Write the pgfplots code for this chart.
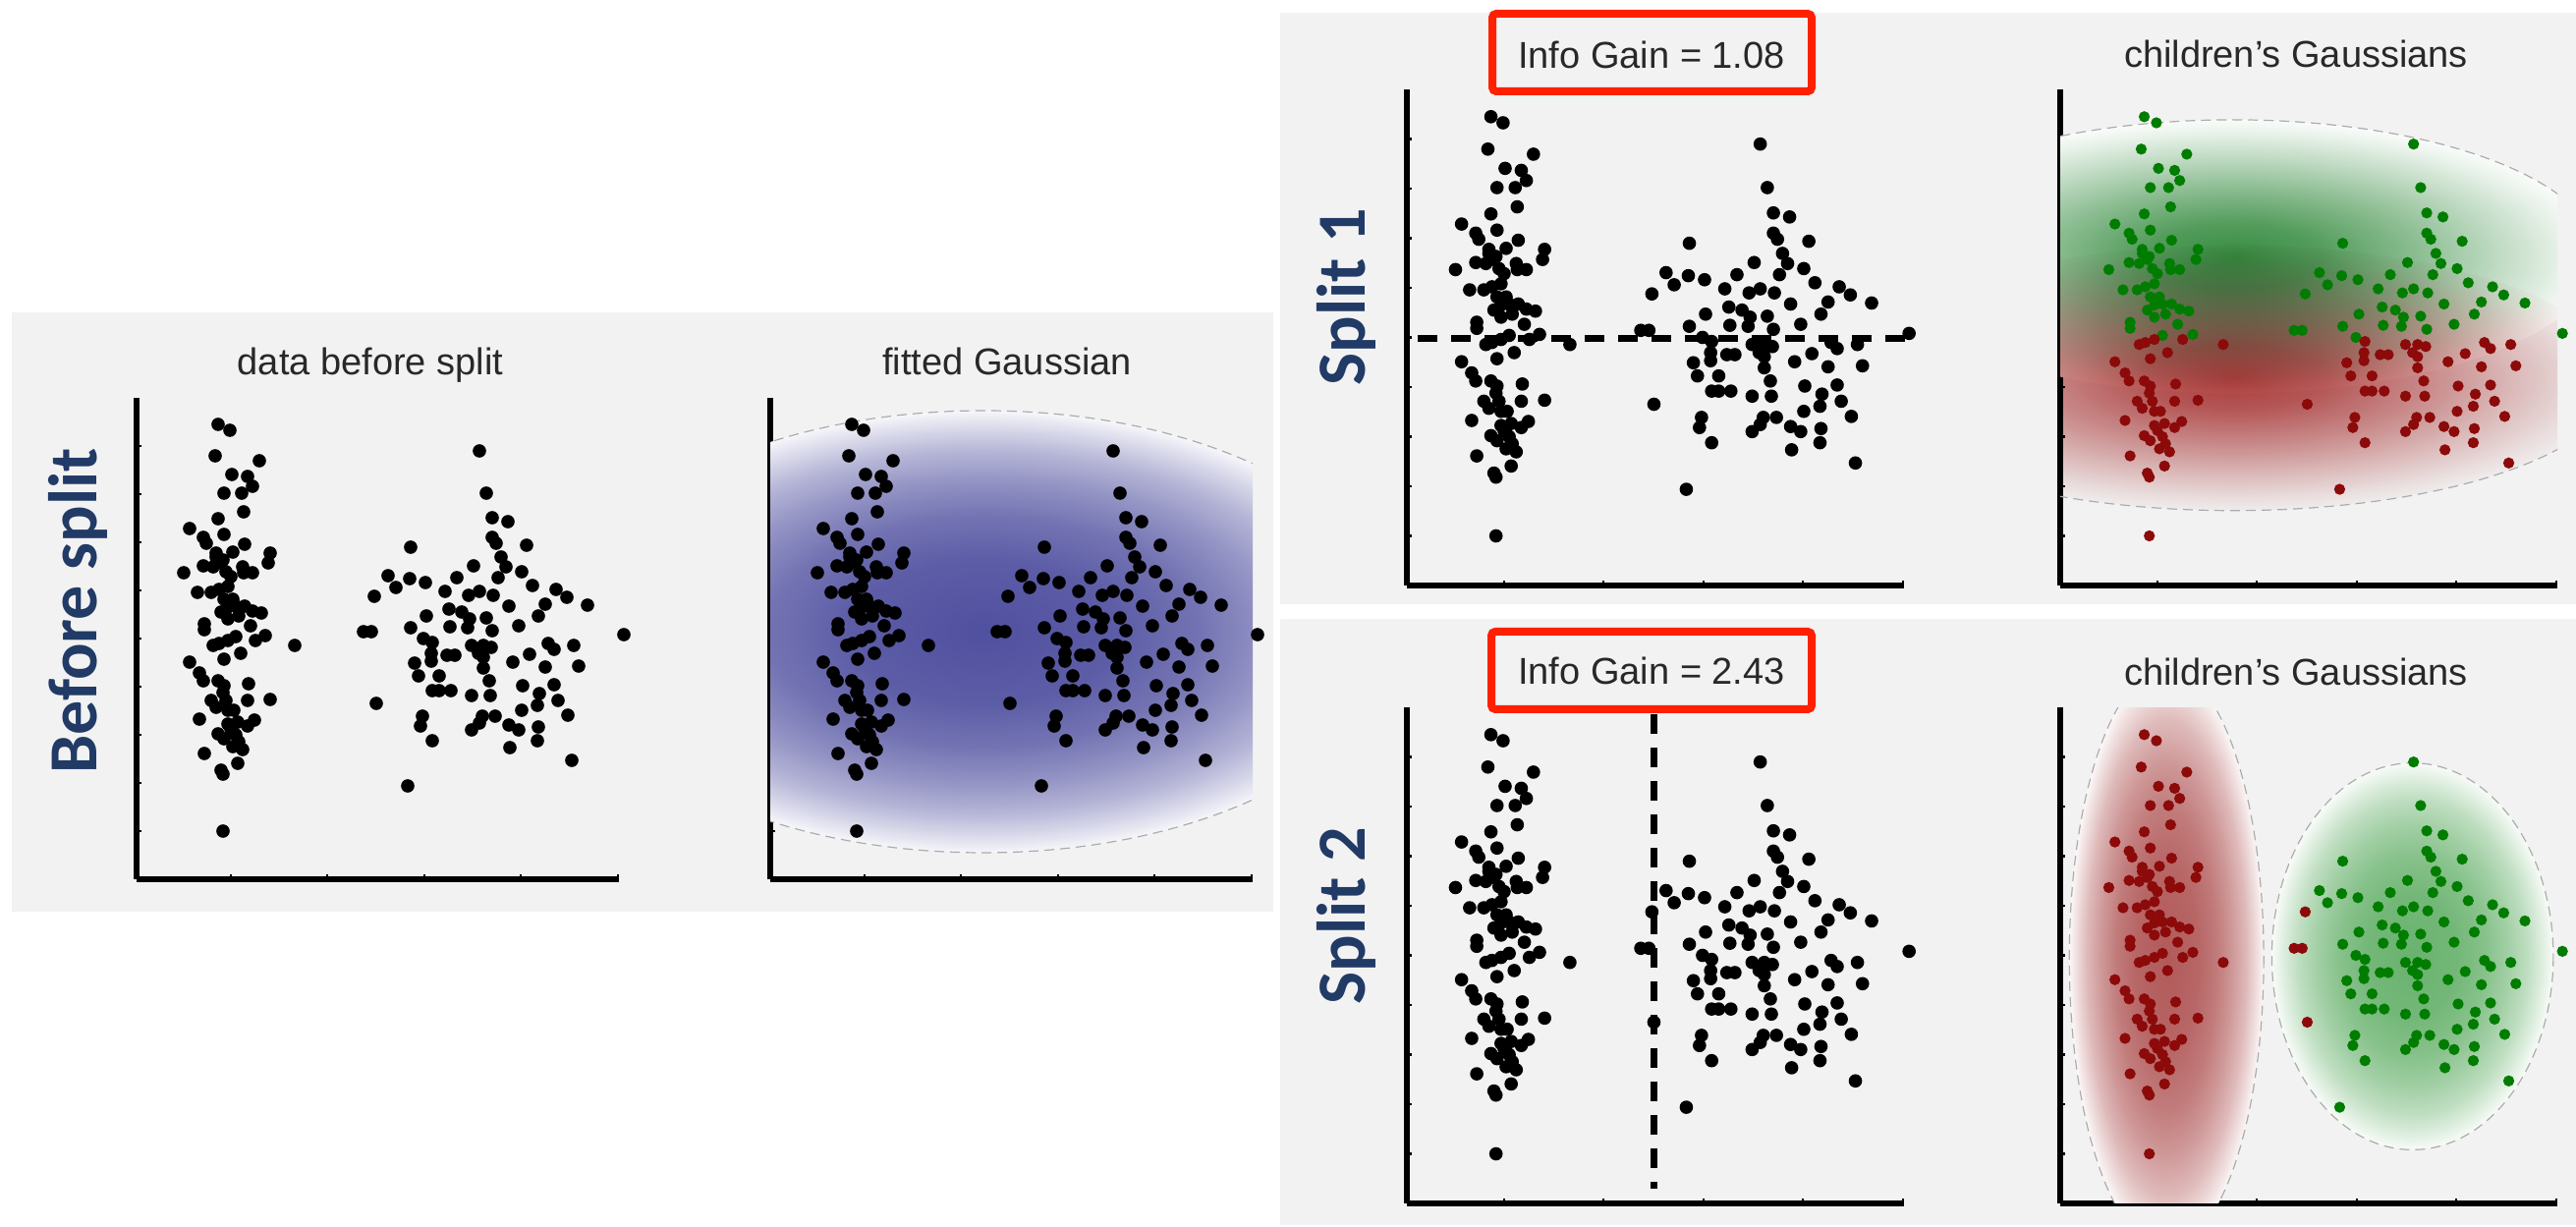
\documentclass[border=0pt]{standalone}
\usepackage{fontspec}
\setmainfont{Liberation Sans}
\newfontfamily\labfont{Carlito}
\usepackage{pgfplots}
\pgfplotsset{compat=1.18}
\usepackage{pgfplotstable}

\definecolor{panelbg}{RGB}{242,242,242}
\definecolor{labblue}{RGB}{33,58,102}
\definecolor{titlegray}{RGB}{40,40,40}
\definecolor{boxred}{RGB}{255,32,0}
\definecolor{cblue}{RGB}{80,80,160}
\definecolor{cgreen}{RGB}{55,140,65}
\definecolor{cred}{RGB}{180,65,65}
\definecolor{cgreenb}{RGB}{105,178,110}
\definecolor{credb}{RGB}{178,90,90}
\definecolor{dotgreen}{RGB}{0,125,0}
\definecolor{dotred}{RGB}{140,10,10}

\newcommand{\gaussshade}[2]{\pgfdeclareradialshading{#1}{\pgfpoint{0bp}{0bp}}{color(0bp)=(#2); color(8bp)=(#2!93!white); color(13bp)=(#2!80!white); color(17bp)=(#2!62!white); color(20.5bp)=(#2!42!white); color(23bp)=(#2!22!white); color(25bp)=(#2!5!white); color(26bp)=(white); color(50bp)=(white)}}
\newcommand{\gaussshadenarrow}[2]{\pgfdeclareradialshading{#1}{\pgfpoint{0bp}{0bp}}{color(0bp)=(#2); color(6bp)=(#2!86!white); color(12.5bp)=(#2!58!white); color(18.5bp)=(#2!30!white); color(23bp)=(#2!10!white); color(25bp)=(#2!3!white); color(26bp)=(white); color(50bp)=(white)}}
\gaussshade{gblue}{cblue}
\gaussshadenarrow{ggreen}{cgreen}
\gaussshadenarrow{gred}{cred}
\gaussshade{ggreenb}{cgreenb}
\gaussshade{gredb}{credb}

\tikzset{outline/.style={gray!65, line width=0.3pt, dash pattern=on 2.5pt off 1.5pt}}

\pgfplotsset{
  panel/.style={
    scale only axis, clip=false, anchor=south west,
    xmin=139, xmax=630, ymin=405, ymax=895, y dir=reverse,
    axis lines=left, axis line style={-, line width=1.4pt, black},
    xtick={235,333,432,530,629}, ytick={454,503,552,601,650,699,748,797,846},
    xticklabels={}, yticklabels={},
    tick align=inside, major tick length=1.3pt, tick style={line width=0.6pt, black},
  },
  dots/.style={only marks, mark=*, mark size=1.5pt, black, mark options={draw=black, fill=black}},
  gdots/.style={only marks, mark=*, mark size=1.2pt, dotgreen, mark options={draw=dotgreen, fill=dotgreen}},
  rdots/.style={only marks, mark=*, mark size=1.2pt, dotred, mark options={draw=dotred, fill=dotred}},
}

\pgfplotstableread{
x y
222 432
234 438
219 464
264 469
236 483
252 485
257 495
228 502
246 502
248 521
222 528
193 538
228 544
207 547
210 553
249 554
275 563
220 563
237 562
273 573
187 583
207 576
217 577
225 573
230 582
247 577
248 583
257 583
201 603
215 603
223 600
232 597
228 610
232 618
240 617
249 617
257 622
266 624
232 630
208 635
208 641
255 637
270 647
260 652
240 648
232 652
217 657
223 655
300 657
245 665
228 671
193 674
203 685
207 693
222 693
228 698
253 696
227 705
215 713
230 713
252 713
275 712
232 723
238 723
203 732
242 735
259 733
252 739
222 747
228 752
240 748
237 760
243 755
208 767
242 777
225 784
227 788
227 846
220 567
227 570
235 587
237 610
225 623
243 627
235 742
232 737
220 720
247 763
488 459
495 502
501 527
517 531
418 557
501 547
505 553
536 555
510 567
515 577
482 576
531 582
507 588
395 586
403 598
417 589
433 593
465 588
542 596
381 607
453 602
477 606
488 602
502 606
566 600
577 608
598 616
518 617
555 615
548 627
434 627
457 620
470 623
478 630
495 629
370 643
378 643
418 639
458 638
476 639
501 642
528 637
635 646
431 650
440 654
480 657
492 657
500 659
558 655
564 661
584 657
439 665
455 667
463 667
487 665
539 666
522 674
422 675
439 673
492 669
589 678
555 679
492 680
426 688
447 688
498 693
564 697
532 698
440 703
447 703
459 703
549 706
480 708
499 708
568 713
383 716
547 718
531 723
430 729
491 729
504 729
578 728
428 739
488 736
518 738
528 743
548 740
480 743
440 754
547 754
519 761
582 774
415 800
}\pts

\begin{document}
\begin{tikzpicture}[x=0.25pt,y=0.25pt]
\path[use as bounding box, fill=white] (0,0) rectangle (2622,1249);
% panels
\fill[panelbg] (12,321) rectangle (1296,931);
\fill[panelbg] (1303,634) rectangle (2622,1236);
\fill[panelbg] (1303,2) rectangle (2622,619);

% side labels
\node[rotate=90, inner sep=0pt, text=labblue, font=\labfont\bfseries\fontsize{17.5}{20}\selectfont] at (79,627) {Before split};
\node[rotate=90, inner sep=0pt, text=labblue, font=\labfont\bfseries\fontsize{17.5}{20}\selectfont] at (1370,947) {Split 1};
\node[rotate=90, inner sep=0pt, text=labblue, font=\labfont\bfseries\fontsize{17.5}{20}\selectfont] at (1370,317) {Split 2};

% titles
\begin{scope}[every node/.style={anchor=base, inner sep=0pt, text=titlegray, font=\fontsize{9.5}{11}\selectfont}]
\node at (377,867) {data before split};
\node at (1025,867) {fitted Gaussian};
\node at (1681,1179) {Info Gain = 1.08};
\node at (2337,1180) {children's Gaussians};
\node at (1681,552) {Info Gain = 2.43};
\node at (2337,551) {children's Gaussians};
\end{scope}
\draw[boxred, line width=2pt, rounded corners=1pt] (1519,1235) rectangle (1844,1156);
\draw[boxred, line width=2pt, rounded corners=1pt] (1518,606) rectangle (1844,527);

% plot 1: data before split
\begin{axis}[panel, at={(34.75pt,88.5pt)}, width=122.75pt, height=122.5pt]
\addplot[dots] table {\pts};
\end{axis}

% plot 2: fitted Gaussian
\begin{axis}[panel, at={(196pt,88.5pt)}, width=122.75pt, height=122.5pt]
\begin{scope}
\clip (rel axis cs:0,0) rectangle (rel axis cs:1,1);
\shade[shading=gblue] (axis cs:356,643) ellipse [x radius=422, y radius=225];
\draw[outline] (axis cs:356,643) ellipse [x radius=422, y radius=225];
\end{scope}
\addplot[dots] table {\pts};
\end{axis}

% plot 3: split 1
\begin{axis}[panel, at={(358pt,163.25pt)}, width=126.5pt, height=126.25pt]
\addplot[dots] table {\pts};
\addplot[black, line width=1.6pt, dash pattern=on 5pt off 3.5pt] coordinates {(150,651) (637,651)};
\end{axis}

% plot 4: children's Gaussians (split 1)
\begin{axis}[panel, at={(524.25pt,163.25pt)}, width=126.5pt, height=126.25pt]
\begin{scope}
\clip (rel axis cs:0,0) rectangle (rel axis cs:1,1);
\shade[shading=ggreen] (axis cs:310,570) ellipse [x radius=360, y radius=135];
\shade[shading=gred, blend mode=multiply] (axis cs:310,690) ellipse [x radius=380, y radius=131];
\end{scope}
\begin{scope}
\clip (axis cs:139,380) rectangle (axis cs:630,630);
\draw[outline] (axis cs:310,570) ellipse [x radius=360, y radius=135];
\end{scope}
\begin{scope}
\clip (axis cs:139,630) rectangle (axis cs:630,900);
\draw[outline] (axis cs:310,690) ellipse [x radius=380, y radius=131];
\end{scope}
\addplot[gdots, restrict y to domain=0:651] table {\pts};
\addplot[rdots, restrict y to domain=651:2000] table {\pts};
\end{axis}

% plot 5: split 2
\begin{axis}[panel, at={(358pt,6pt)}, width=126.5pt, height=126.25pt]
\addplot[dots] table {\pts};
\addplot[black, line width=1.6pt, dash pattern=on 5pt off 3.5pt] coordinates {(383,412) (383,880)};
\end{axis}

% plot 6: children's Gaussians (split 2)
\begin{axis}[panel, at={(524.25pt,6pt)}, width=126.5pt, height=126.25pt]
\begin{scope}
\clip (rel axis cs:0,0) rectangle (rel axis cs:1,1);
\shade[shading=gredb] (axis cs:244,653) ellipse [x radius=96, y radius=286];
\shade[shading=ggreenb] (axis cs:487,651) ellipse [x radius=139, y radius=191];
\draw[outline] (axis cs:244,653) ellipse [x radius=96, y radius=286];
\draw[outline] (axis cs:487,651) ellipse [x radius=139, y radius=191];
\end{scope}
\addplot[rdots, restrict x to domain=0:385] table {\pts};
\addplot[gdots, restrict x to domain=385:2000] table {\pts};
\end{axis}
\end{tikzpicture}
\end{document}
